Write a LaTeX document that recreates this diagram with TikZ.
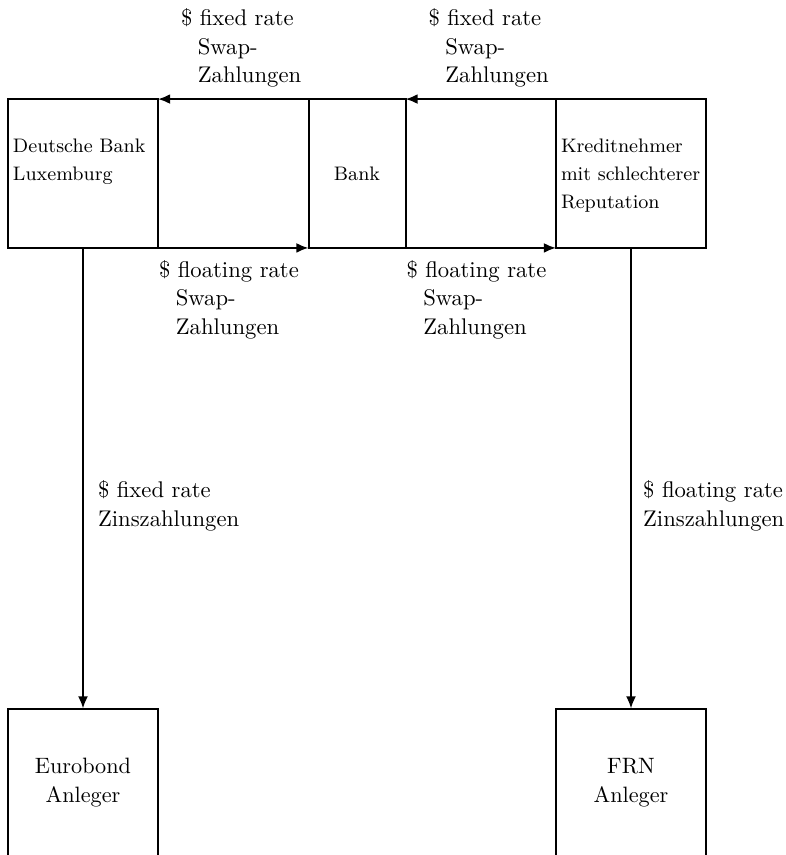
\documentclass[tikz,border=0pt]{standalone}
\usepackage{tikz}
\usetikzlibrary{arrows.meta}
\usetikzlibrary{positioning}
\tikzset{%
  >={Latex[width=4.5pt,length=5.5pt]},
  % Specifications for style of nodes:
         kasten/.style = {rectangle, draw=black, line width=0.9pt,
                          minimum width=67.5pt, minimum height=67pt,
                          inner sep=0pt, outer sep=0pt,
                          font=\fontsize{8.8}{12.6}\selectfont},
     bankkasten/.style = {kasten, minimum width=43.65pt},
  anlegerkasten/.style = {kasten, align=center,
                          font=\fontsize{10}{13}\selectfont},
        zahlung/.style = {inner sep=0pt, align=left,
                          font=\fontsize{10.2}{12.8}\selectfont},
}
\newcommand{\dreizeilen}[1]{\parbox[c][31pt][t]{63pt}{\raggedright #1\vspace*{-3pt}}}
\newcommand{\einzug}{\hspace*{7.6pt}}

\begin{document}
\begin{tikzpicture}[x=0.45pt, y=-0.45pt, line width=0.9pt]
  \useasboundingbox (0,0) rectangle (785,855);
  % Specification of nodes (position, etc.)
  \node (db)     [kasten]     at (83,173.5)  {\dreizeilen{\mbox{Deutsche Bank}\\Luxemburg}};
  \node (bank)   [bankkasten] at (357,173.5) {Bank};
  \node (kredit) [kasten]     at (631,173.5) {\dreizeilen{Kreditnehmer\\\mbox{mit schlechterer}\\Reputation}};
  \node (euro)   [anlegerkasten] at (83,783)  {Eurobond\\Anleger};
  \node (frn)    [anlegerkasten] at (631,783) {FRN\\Anleger};
  % Specification of lines between nodes specified above
  % with aditional nodes for description
  \draw[->] (bank.north west) -- node[zahlung, pos=1, anchor=south west, xshift=9.9pt, yshift=4.8pt]
    {\$ fixed rate\\\einzug Swap-\\\einzug Zahlungen} (db.north east);
  \draw[->] (db.south east) -- node[zahlung, pos=0, anchor=north west, yshift=-5.1pt]
    {\$ floating rate\\\einzug Swap-\\\einzug Zahlungen} (bank.south west);
  \draw[->] (kredit.north west) -- node[zahlung, pos=1, anchor=south west, xshift=9.9pt, yshift=4.8pt]
    {\$ fixed rate\\\einzug Swap-\\\einzug Zahlungen} (bank.north east);
  \draw[->] (bank.south east) -- node[zahlung, pos=0, anchor=north west, yshift=-5.1pt]
    {\$ floating rate\\\einzug Swap-\\\einzug Zahlungen} (kredit.south west);
  \draw[->] (db.south) -- node[zahlung, pos=0.56, anchor=west, xshift=6.3pt]
    {\$ fixed rate\\Zinszahlungen} (euro.north);
  \draw[->] (kredit.south) -- node[zahlung, pos=0.56, anchor=west, xshift=5pt]
    {\$ floating rate\\Zinszahlungen} (frn.north);
\end{tikzpicture}
\end{document}
